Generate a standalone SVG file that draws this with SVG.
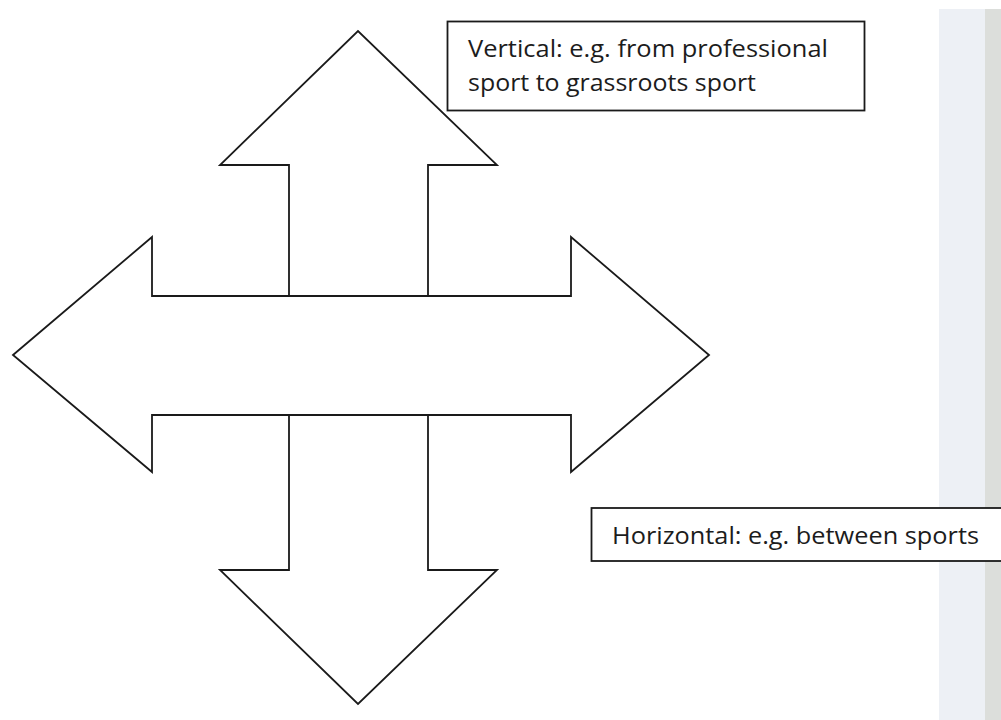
<svg xmlns="http://www.w3.org/2000/svg" width="1001" height="720" viewBox="0 0 1001 720">
<style>
.arrow{fill:#fff;stroke:#1a1a1a;stroke-width:1.8;stroke-linejoin:miter}
.box{fill:#fff;stroke:#1a1a1a;stroke-width:1.8}
.lbl{font-family:"Open Sans","Liberation Sans",sans-serif;font-size:24px;fill:#1c1c1c}
</style>
<rect x="0" y="0" width="1001" height="720" fill="#fff"/>
<g id="panel">
<rect x="939" y="9" width="46" height="711" fill="#edf0f5"/>
<rect x="985" y="9" width="16" height="711" fill="#dcdedb"/>
</g>
<g id="connectors">
<polygon id="horizontal-arrow" class="arrow" points="13,355 152,237 152,296 571,296 571,237 709,355 571,472 571,415 152,415 152,472"/>
<polygon id="up-arrow" class="arrow" points="289,296 289,165 220,165 358,31 497,165 428,165 428,296"/>
<polygon id="down-arrow" class="arrow" points="289,415 289,570 220,570 358,704 497,570 428,570 428,415"/>
</g>
<g id="vertical-label">
<rect class="box" x="447.5" y="21.5" width="417" height="89"/>
<text class="lbl" x="468" y="57" textLength="360" lengthAdjust="spacingAndGlyphs">Vertical: e.g. from professional</text>
<text class="lbl" x="468" y="91" textLength="288" lengthAdjust="spacingAndGlyphs">sport to grassroots sport</text>
</g>
<g id="horizontal-label">
<rect class="box" x="591.5" y="508" width="420" height="53" stroke-width="2"/>
<text class="lbl" x="612" y="544" textLength="367" lengthAdjust="spacingAndGlyphs">Horizontal: e.g. between sports</text>
</g>
</svg>
